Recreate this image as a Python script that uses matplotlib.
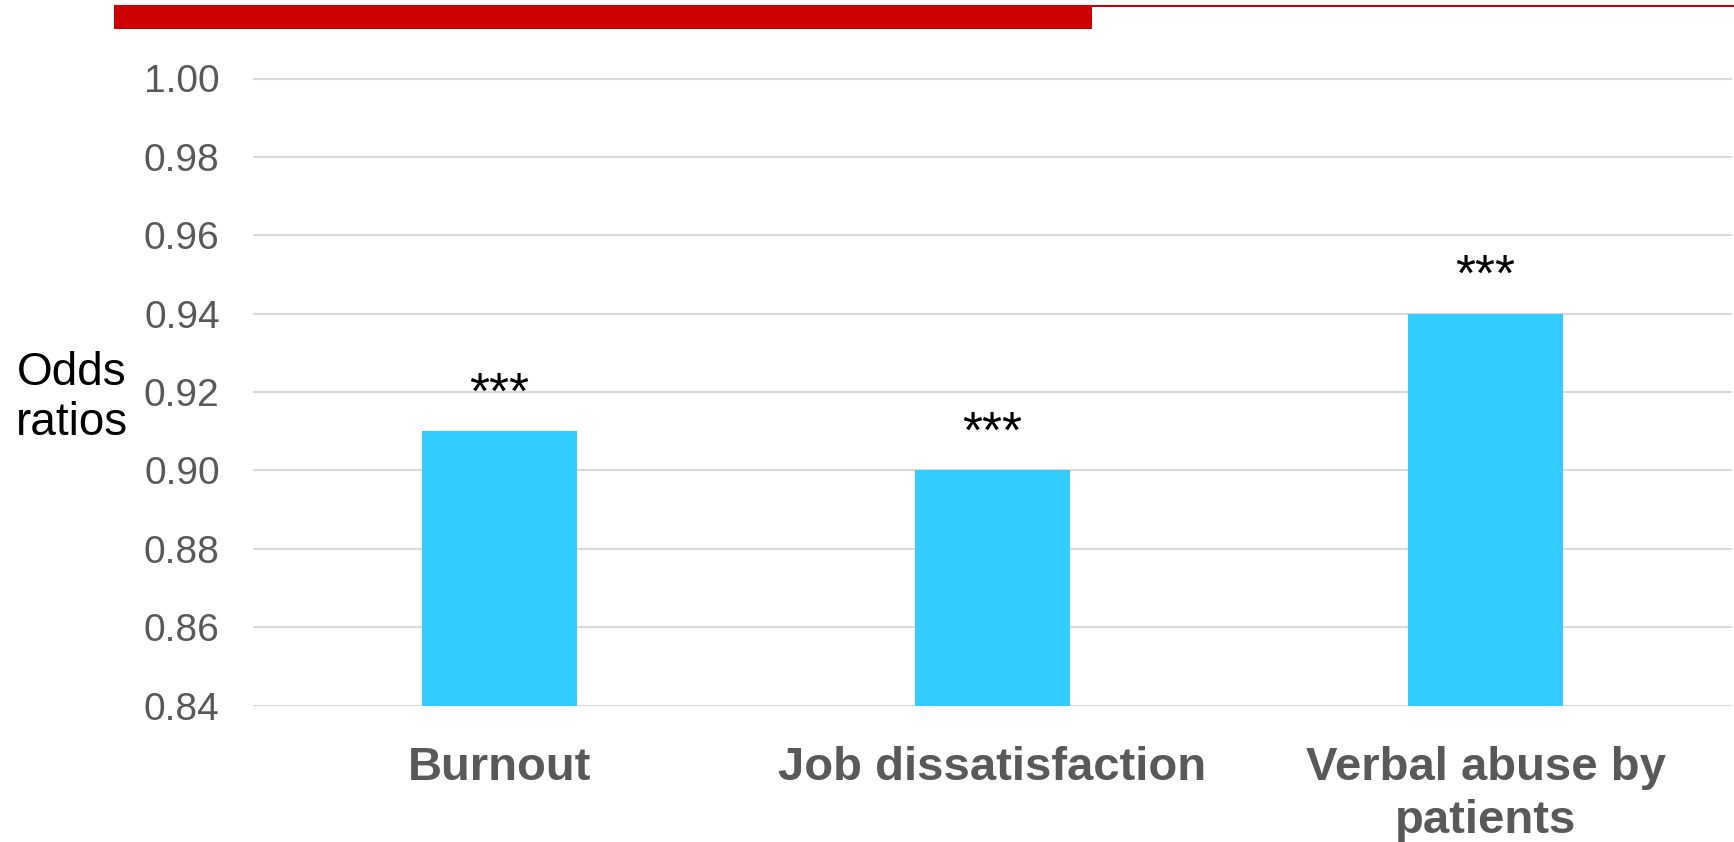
import matplotlib
matplotlib.use("Agg")
import matplotlib.pyplot as plt
from matplotlib.patches import Rectangle
import numpy as np

categories = ["Burnout", "Job dissatisfaction", "Verbal abuse by\npatients"]
odds_ratios = [0.91, 0.90, 0.94]
significance = ["***", "***", "***"]
y_ticks = [0.84, 0.86, 0.88, 0.90, 0.92, 0.94, 0.96, 0.98, 1.00]

plt.rcParams['font.family'] = ['Liberation Sans', 'DejaVu Sans']

W, H = 1734, 842
fig = plt.figure(figsize=(W / 100, H / 100), dpi=100)

# decorative red header bar
fig.patches.append(Rectangle((114 / W, 1 - 29 / H), (1092 - 114) / W, 24 / H,
                             transform=fig.transFigure, color="#CC0000", lw=0))
fig.patches.append(Rectangle((1092 / W, 1 - 7 / H), (W - 1092) / W, 2 / H,
                             transform=fig.transFigure, color="#CC0000", lw=0))

ax = fig.add_axes([253 / W, 1 - 705.5 / H, (1732 - 253) / W, (705.5 - 78.5) / H])
x = np.arange(len(categories))
ax.bar(x, odds_ratios, width=0.314, color="#33CCFF", zorder=3)
for xi, v, s in zip(x, odds_ratios, significance):
    ax.annotate(s, (xi, v), xytext=(0, 8.5), textcoords="offset points",
                ha="center", va="bottom", fontsize=37, color="black")

ax.set_xlim(-0.5, 2.5)
ax.set_ylim(0.84, 1.00)
ax.set_yticks(y_ticks)
ax.set_yticklabels([f"{t:.2f}" for t in y_ticks], fontsize=28, color="#595959")
ax.set_xticks(x)
ax.set_xticklabels(categories, fontsize=34, fontweight="bold", color="#595959",
                   linespacing=1.27)
ax.tick_params(axis="y", length=0, pad=24)
ax.tick_params(axis="x", length=0, pad=29)
ax.grid(axis="y", color="#D9D9D9", linewidth=1.5, zorder=0)
for sp in ax.spines.values():
    sp.set_visible(False)

fig.text(72 / W, 1 - 398 / H, "Odds\nratios", ha="center", va="center",
         fontsize=33, color="black", linespacing=1.2)

fig.savefig("out.png", dpi=100)
